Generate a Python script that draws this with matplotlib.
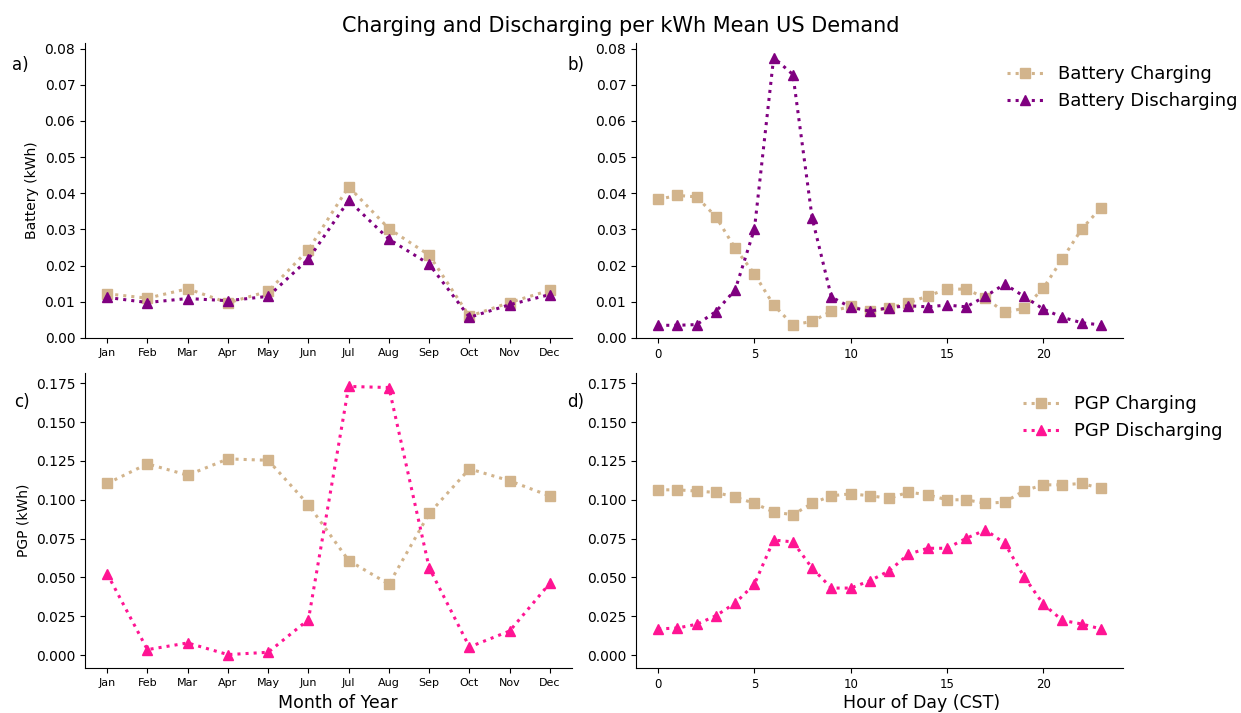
import numpy as np
import matplotlib.pyplot as plt

# monthly means (kWh per kWh of mean US demand)
months = ['Jan', 'Feb', 'Mar', 'Apr', 'May', 'Jun',
          'Jul', 'Aug', 'Sep', 'Oct', 'Nov', 'Dec']
batt_chg_month = [0.0122, 0.0110, 0.0136, 0.0097, 0.0129, 0.0244,
                  0.0418, 0.0302, 0.0229, 0.0060, 0.0098, 0.0132]
batt_dis_month = [0.0112, 0.0098, 0.0109, 0.0103, 0.0115, 0.0218,
                  0.0380, 0.0273, 0.0204, 0.0057, 0.0092, 0.0120]
pgp_chg_month = [0.1105, 0.1231, 0.1158, 0.1263, 0.1254, 0.0968,
                 0.0609, 0.0457, 0.0912, 0.1199, 0.1122, 0.1024]
pgp_dis_month = [0.0524, 0.0036, 0.0079, 0.0004, 0.0019, 0.0229,
                 0.1729, 0.1722, 0.0562, 0.0053, 0.0156, 0.0464]

# hourly means
hours = list(range(24))
batt_chg_hour = [0.0383, 0.0394, 0.0390, 0.0335, 0.0248, 0.0177, 0.0091, 0.0036,
                 0.0046, 0.0074, 0.0087, 0.0074, 0.0083, 0.0097, 0.0116, 0.0135,
                 0.0135, 0.0110, 0.0071, 0.0082, 0.0137, 0.0219, 0.0301, 0.0360]
batt_dis_hour = [0.0035, 0.0035, 0.0037, 0.0073, 0.0133, 0.0301, 0.0775, 0.0728,
                 0.0331, 0.0113, 0.0085, 0.0074, 0.0084, 0.0089, 0.0086, 0.0091,
                 0.0086, 0.0115, 0.0149, 0.0115, 0.0080, 0.0057, 0.0042, 0.0036]
pgp_chg_hour = [0.1064, 0.1064, 0.1056, 0.1047, 0.1017, 0.0977, 0.0921, 0.0904,
                0.0977, 0.1026, 0.1038, 0.1026, 0.1009, 0.1049, 0.1032, 0.1000,
                0.1000, 0.0977, 0.0985, 0.1058, 0.1096, 0.1096, 0.1105, 0.1073]
pgp_dis_hour = [0.0169, 0.0175, 0.0199, 0.0254, 0.0335, 0.0457, 0.0741, 0.0729,
                0.0560, 0.0432, 0.0432, 0.0479, 0.0543, 0.0650, 0.0688, 0.0688,
                0.0752, 0.0806, 0.0720, 0.0506, 0.0329, 0.0224, 0.0201, 0.0169]

CHG = 'tan'
BATT_DIS = 'purple'
PGP_DIS = 'deeppink'
line_kw = dict(linestyle=':', linewidth=2.2, markersize=6.5)

fig = plt.figure(figsize=(12.41, 7.13), dpi=100)
ax_a = fig.add_axes([0.0685, 0.526, 0.3925, 0.4137])
ax_b = fig.add_axes([0.5125, 0.526, 0.3925, 0.4137])
ax_c = fig.add_axes([0.0685, 0.0631, 0.3925, 0.4137])
ax_d = fig.add_axes([0.5125, 0.0631, 0.3925, 0.4137])

x_m = np.arange(len(months))

ax_a.plot(x_m, batt_chg_month, marker='s', color=CHG, **line_kw)
ax_a.plot(x_m, batt_dis_month, marker='^', color=BATT_DIS, **line_kw)
ax_b.plot(hours, batt_chg_hour, marker='s', color=CHG, label='Battery Charging', **line_kw)
ax_b.plot(hours, batt_dis_hour, marker='^', color=BATT_DIS, label='Battery Discharging', **line_kw)

ax_c.plot(x_m, pgp_chg_month, marker='s', color=CHG, **line_kw)
ax_c.plot(x_m, pgp_dis_month, marker='^', color=PGP_DIS, **line_kw)
ax_d.plot(hours, pgp_chg_hour, marker='s', color=CHG, label='PGP Charging', **line_kw)
ax_d.plot(hours, pgp_dis_hour, marker='^', color=PGP_DIS, label='PGP Discharging', **line_kw)

# same y range across each row
top_max = max(max(batt_chg_month), max(batt_dis_month), max(batt_chg_hour), max(batt_dis_hour))
for ax in (ax_a, ax_b):
    ax.set_ylim(0, top_max * 1.052)
    ax.set_yticks(np.arange(0, 0.081, 0.01))
    ax.yaxis.set_major_formatter(plt.FormatStrFormatter('%.2f'))

bot_lo = min(min(pgp_dis_month), min(pgp_dis_hour))
bot_hi = max(max(pgp_dis_month), max(pgp_chg_month))
pad = 0.05 * (bot_hi - bot_lo)
for ax in (ax_c, ax_d):
    ax.set_ylim(bot_lo - pad, bot_hi + pad)
    ax.set_yticks(np.arange(0, 0.176, 0.025))
    ax.yaxis.set_major_formatter(plt.FormatStrFormatter('%.3f'))

for ax in (ax_a, ax_c):
    ax.set_xticks(x_m)
    ax.set_xticklabels(months, fontsize=8)
for ax in (ax_b, ax_d):
    ax.set_xticks([0, 5, 10, 15, 20])
    ax.tick_params(axis='x', labelsize=8.5)

for ax in (ax_a, ax_b, ax_c, ax_d):
    ax.spines['top'].set_visible(False)
    ax.spines['right'].set_visible(False)
    ax.tick_params(axis='y', labelsize=10)

ax_a.set_ylabel('Battery (kWh)', fontsize=10)
ax_c.set_ylabel('PGP (kWh)', fontsize=10)
ax_c.set_xlabel('Month of Year', fontsize=12.5)
ax_d.set_xlabel('Hour of Day (CST)', fontsize=12.5)
ax_c.xaxis.set_label_coords(0.52, -0.087)
ax_d.xaxis.set_label_coords(0.587, -0.087)

ax_b.legend(frameon=False, fontsize=13, loc='upper left',
            bbox_to_anchor=(0.729, 0.98), handlelength=2.0)
ax_d.legend(frameon=False, fontsize=13, loc='upper left',
            bbox_to_anchor=(0.762, 0.98), handlelength=2.0)

# panel letters, placed in figure coordinates
for lab, x, y in (('a)', 0.0097, 0.9088), ('b)', 0.457, 0.9088),
                  ('c)', 0.011, 0.4362), ('d)', 0.457, 0.4362)):
    fig.text(x, y, lab, fontsize=12, ha='left', va='center')

fig.suptitle('Charging and Discharging per kWh Mean US Demand', fontsize=15, y=0.978)

fig.savefig('out.png', dpi=100)
